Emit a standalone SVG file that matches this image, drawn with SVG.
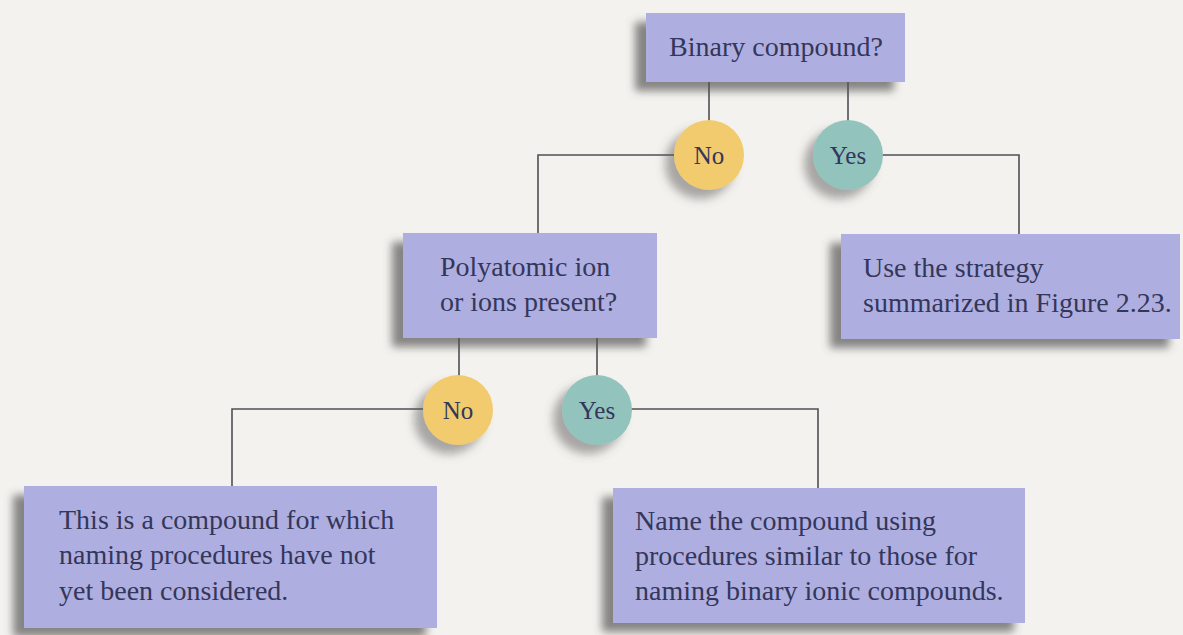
<svg xmlns="http://www.w3.org/2000/svg" width="1183" height="635" viewBox="0 0 1183 635">
  <defs>
    <filter id="boxShadow" x="-10%" y="-20%" width="120%" height="150%">
      <feGaussianBlur in="SourceAlpha" stdDeviation="4"/>
      <feOffset dx="-11" dy="9" result="blur"/>
      <feFlood flood-color="#555555" flood-opacity="0.7"/>
      <feComposite in2="blur" operator="in"/>
      <feMerge>
        <feMergeNode/>
        <feMergeNode in="SourceGraphic"/>
      </feMerge>
    </filter>
    <filter id="dotShadow" x="-50%" y="-50%" width="200%" height="200%">
      <feGaussianBlur in="SourceAlpha" stdDeviation="5"/>
      <feOffset dx="-9" dy="9" result="blur"/>
      <feFlood flood-color="#5a5a5a" flood-opacity="0.5"/>
      <feComposite in2="blur" operator="in"/>
      <feMerge>
        <feMergeNode/>
        <feMergeNode in="SourceGraphic"/>
      </feMerge>
    </filter>
  </defs>
  <style>
    .box { fill: #aeafe0; filter: url(#boxShadow); }
    .no { fill: #f1cb6e; filter: url(#dotShadow); }
    .yes { fill: #92c4bd; filter: url(#dotShadow); }
    .mid { text-anchor: middle; }
    .wire { fill: none; stroke: #4f4f55; stroke-width: 1.6; }
  </style>

  <rect width="1183" height="635" fill="#f4f2ee"/>

  <!-- connectors -->
  <g id="connectors">
    <line class="wire" x1="709" y1="82" x2="709" y2="121"/>
    <line class="wire" x1="848" y1="82" x2="848" y2="121"/>
    <polyline class="wire" points="674,155 538,155 538,234"/>
    <polyline class="wire" points="882,155 1019,155 1019,234"/>
    <line class="wire" x1="459" y1="338" x2="459" y2="376"/>
    <line class="wire" x1="597" y1="338" x2="597" y2="376"/>
    <polyline class="wire" points="424,409 232,409 232,486"/>
    <polyline class="wire" points="631,409 818,409 818,488"/>
  </g>

  <g font-family="Liberation Serif, Times New Roman, DejaVu Serif, serif" font-size="28" fill="#34365a">
    <!-- question: binary compound -->
    <g id="q-binary">
      <rect class="box" x="646" y="13" width="259" height="69"/>
      <text class="mid" x="776" y="56">Binary compound?</text>
    </g>

    <g id="binary-no">
      <circle class="no" cx="709" cy="155" r="35"/>
      <text class="mid" x="709" y="164" font-size="25">No</text>
    </g>

    <g id="binary-yes">
      <circle class="yes" cx="848" cy="155" r="35"/>
      <text class="mid" x="848" y="164" font-size="25">Yes</text>
    </g>

    <!-- question: polyatomic ions -->
    <g id="q-polyatomic">
      <rect class="box" x="403" y="233" width="254" height="105"/>
      <text x="440" y="276">Polyatomic ion</text>
      <text x="440" y="311">or ions present?</text>
    </g>

    <!-- outcome: binary strategy -->
    <g id="use-strategy">
      <rect class="box" x="841" y="234" width="339" height="105"/>
      <text x="863" y="277">Use the strategy</text>
      <text x="863" y="312">summarized in Figure 2.23.</text>
    </g>

    <g id="poly-no">
      <circle class="no" cx="458" cy="410" r="35"/>
      <text class="mid" x="458" y="419" font-size="25">No</text>
    </g>

    <g id="poly-yes">
      <circle class="yes" cx="597" cy="410" r="35"/>
      <text class="mid" x="597" y="419" font-size="25">Yes</text>
    </g>

    <!-- outcome: not yet covered -->
    <g id="not-considered">
      <rect class="box" x="24" y="486" width="413" height="142"/>
      <text x="59" y="529">This is a compound for which</text>
      <text x="59" y="564">naming procedures have not</text>
      <text x="59" y="600">yet been considered.</text>
    </g>

    <!-- outcome: name like binary ionic -->
    <g id="name-ionic">
      <rect class="box" x="613" y="488" width="412" height="135"/>
      <text x="635" y="530">Name the compound using</text>
      <text x="635" y="565">procedures similar to those for</text>
      <text x="635" y="600">naming binary ionic compounds.</text>
    </g>
  </g>
</svg>
